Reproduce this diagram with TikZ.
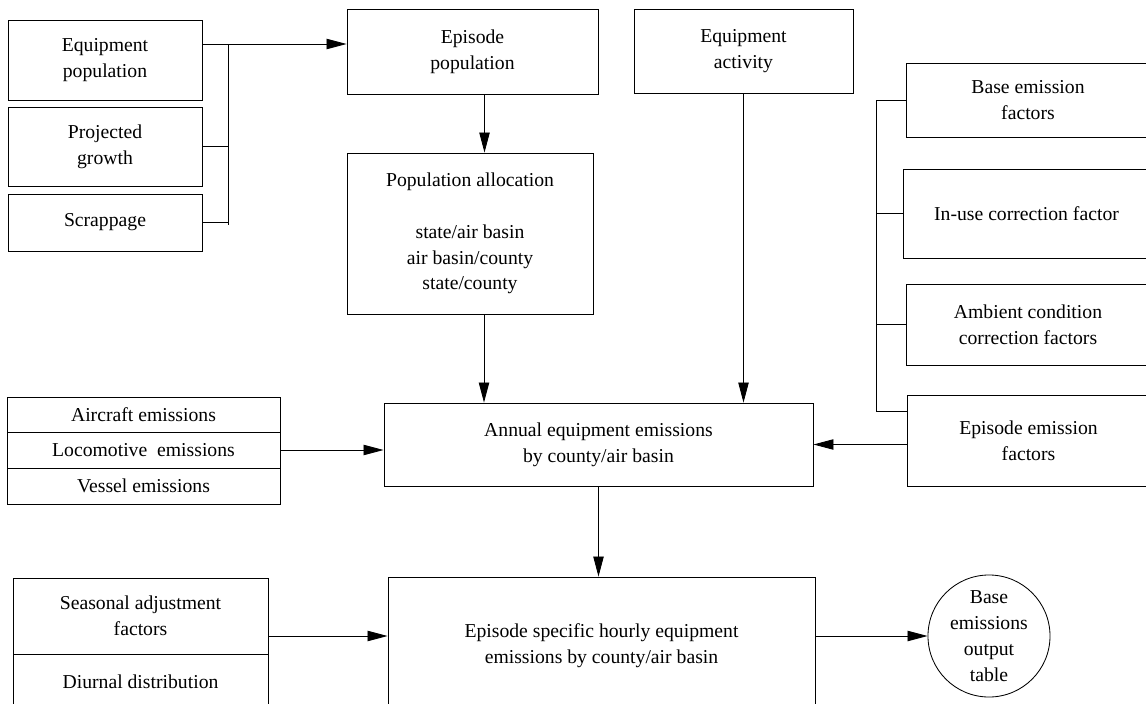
\documentclass[tikz,border=0pt]{standalone}
\usepackage{fontspec}
\setmainfont{Liberation Serif}
\usepackage{tikz}
\usetikzlibrary{arrows.meta}

\begin{document}
\begin{tikzpicture}[x=0.025cm,y=-0.025cm,
    box/.style={draw,line width=0.6pt,align=center,inner sep=0pt,font=\fontsize{14}{18.4}\selectfont},
    arr/.style={-{Triangle[length=0.5cm,width=0.26cm]},line width=0.6pt},
    link/.style={line width=0.6pt}]
    \useasboundingbox (0,0) rectangle (1146,704);
    \clip (0,0) rectangle (1146,704);

    % Input boxes on the left
    \node[box,minimum width=4.85cm,minimum height=2cm] (equpop) at (105,60) {Equipment\\population};
    \node[box,minimum width=4.85cm,minimum height=1.975cm] (growth) at (105,146.5) {Projected\\growth};
    \node[box,minimum width=4.85cm,minimum height=1.425cm] (scrap) at (105,222.5) {Scrappage};

    % Population boxes
    \node[box,minimum width=6.275cm,minimum height=2.125cm] (epipop) at (472.5,51.5) {Episode\\population};
    \node[box,minimum width=6.15cm,minimum height=4.025cm] (alloc) at (470,233.5) {Population allocation\\ \\state/air basin\\air basin/county\\state/county};
    \node[box,minimum width=5.475cm,minimum height=2.1cm] (activity) at (743.5,51) {Equipment\\activity};

    % Emission factor boxes on the right
    \node[box,minimum width=6.1cm,minimum height=1.85cm] (basefac) at (1028,100) {Base emission\\factors};
    \node[box,minimum width=6.175cm,minimum height=2.225cm] (inuse) at (1026.5,213.5) {In-use correction factor};
    \node[box,minimum width=6.1cm,minimum height=2.025cm] (ambient) at (1028,324.5) {Ambient condition\\correction factors};
    \node[box,minimum width=6.075cm,minimum height=2.275cm] (epfac) at (1028.5,440.5) {Episode emission\\factors};

    % Annual emissions
    \node[box,minimum width=10.725cm,minimum height=2.075cm] (annual) at (598.5,444.5) {Annual equipment emissions\\by county/air basin};
    \node[box,minimum width=6.825cm,minimum height=0.875cm] (aircraft) at (143.5,414.5) {Aircraft emissions};
    \node[box,minimum width=6.825cm,minimum height=0.9cm] (loco) at (143.5,450) {Locomotive~ emissions};
    \node[box,minimum width=6.825cm,minimum height=0.9cm] (vessel) at (143.5,486) {Vessel emissions};

    % Hourly emissions and output
    \node[box,minimum width=6.375cm,minimum height=1.9cm] (seasonal) at (140.5,616) {Seasonal adjustment\\factors};
    \node[box,minimum width=6.375cm,minimum height=1.4cm] (diurnal) at (140.5,682) {Diurnal distribution};
    \node[box,minimum width=10.675cm,minimum height=3.45cm] (hourly) at (601.5,646) {Episode specific hourly equipment\\emissions by county/air basin};
    \node[box,circle,minimum size=3.05cm] (table) at (989,636) {Base\\emissions\\output\\table};

    % Draw brackets
    \coordinate (jtop) at (228,44);
    \coordinate (jbot) at (228,225);
    \draw[link] (equpop.east |- jtop) -- (jtop) -- (jbot);
    \draw[link] (growth.east) -- (growth.east -| jtop);
    \draw[link] (scrap.east) -- (scrap.east -| jtop);
    \coordinate (kbot) at (876,411);
    \draw[link] (basefac.west) -- (basefac.west -| kbot) -- (kbot) -- (epfac.west |- kbot);
    \draw[link] (inuse.west) -- (inuse.west -| kbot);
    \draw[link] (ambient.west) -- (ambient.west -| kbot);

    % Draw arrows
    \draw[arr] (jtop) -- (epipop.west |- jtop);
    \draw[arr] ([xshift=0.3cm]epipop.south) -- ([xshift=0.3cm]epipop.south |- alloc.north);
    \draw[arr] ([xshift=0.35cm]alloc.south) -- ([xshift=0.35cm]alloc.south |- annual.north);
    \draw[arr] (activity.south) -- (activity.south |- annual.north);
    \draw[arr] (epfac.west |- annual.east) -- (annual.east);
    \draw[arr] (loco.east) -- (annual.west |- loco.east);
    \draw[arr] (annual.south) -- (annual.south |- hourly.north);
    \draw[arr] (seasonal.east |- table) -- (hourly.west |- table);
    \draw[arr] (hourly.east |- table) -- (table.west);
\end{tikzpicture}
\end{document}
